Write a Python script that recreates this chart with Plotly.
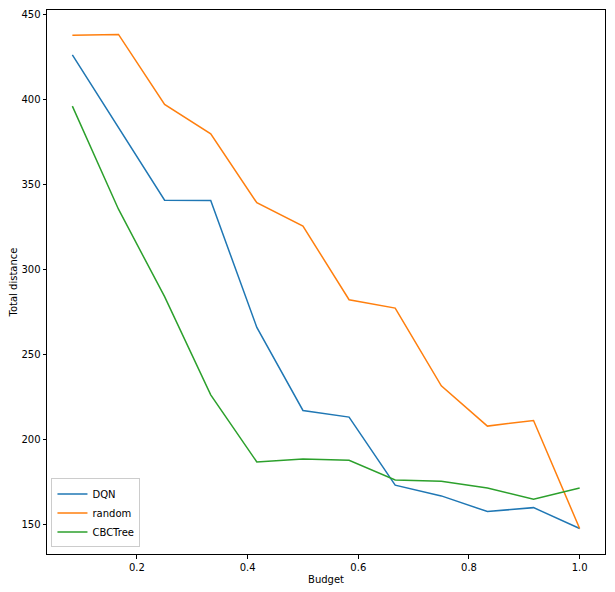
import plotly.graph_objects as go

budget = [1/12, 2/12, 3/12, 4/12, 5/12, 6/12, 7/12, 8/12, 9/12, 10/12, 11/12, 12/12]
dqn = [426.4, 383.5, 340.8, 340.6, 265.9, 217.0, 213.1, 173.0, 166.7, 157.5, 159.8, 147.5]
random_vals = [438.0, 438.4, 397.2, 379.9, 339.3, 325.6, 282.2, 277.3, 231.5, 207.8, 211.1, 147.5]
cbctree = [396.2, 335.5, 284.0, 226.2, 186.7, 188.5, 187.7, 176.1, 175.4, 171.4, 164.8, 171.4]

series_names = ["DQN", "random", "CBCTree"]
series_colors = ["#1f77b4", "#ff7f0e", "#2ca02c"]
x_ticks = [0.2, 0.4, 0.6, 0.8, 1.0]
y_ticks = [150, 200, 250, 300, 350, 400, 450]

fig = go.Figure()
for name, vals, col in zip(series_names, [dqn, random_vals, cbctree], series_colors):
    fig.add_trace(go.Scatter(x=budget, y=vals, mode="lines", name=name,
                             line=dict(color=col, width=1.5)))

font = dict(family="DejaVu Sans", size=10, color="black")
axis_common = dict(showgrid=False, zeroline=False, showline=True, linecolor="black",
                   linewidth=1, mirror=True, ticks="outside", ticklen=3.5,
                   tickwidth=1, tickcolor="black", tickfont=font)

fig.update_xaxes(range=[0.0375, 1.0458], tickvals=x_ticks,
                 ticktext=[f"{v:.1f}" for v in x_ticks], automargin=False,
                 title=dict(text="Budget", font=font, standoff=4), **axis_common)
fig.update_yaxes(range=[132.5, 452.8], tickvals=y_ticks,
                 ticktext=[str(v) for v in y_ticks], automargin=True,
                 title=dict(text="Total distance", font=font, standoff=1), **axis_common)

fig.update_layout(
    width=615, height=592,
    margin=dict(l=47, r=10, t=10, b=38, autoexpand=False),
    plot_bgcolor="white", paper_bgcolor="white",
    font=font,
    showlegend=True,
    legend=dict(x=0.008, y=0.012, xanchor="left", yanchor="bottom",
                bgcolor="rgba(255,255,255,0.8)", bordercolor="#cccccc", borderwidth=1,
                font=font, tracegroupgap=0, itemwidth=30),
)

fig.write_html("out.html", config={"displayModeBar": False},
               post_script="document.body.style.margin='0';document.body.style.overflow='hidden';")
